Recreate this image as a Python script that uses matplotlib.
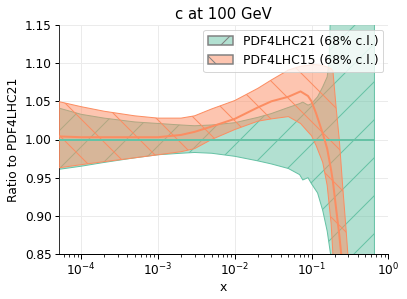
import matplotlib
matplotlib.use("Agg")
import matplotlib.pyplot as plt
import matplotlib.patches as mpatches
from matplotlib.colors import to_rgba
import numpy as np

# ---------------- data ----------------
title = "c at 100 GeV"
xlabel = "x"
ylabel = "Ratio to PDF4LHC21"
labels = ["PDF4LHC21 (68% c.l.)", "PDF4LHC15 (68% c.l.)"]

# PDF4LHC21 (reference) band
x21 = [5.2e-5, 1e-4, 2e-4, 5e-4, 1e-3, 2e-3, 3e-3, 5e-3, 1e-2, 2e-2, 3e-2, 5e-2,
       7e-2, 7.7e-2, 9e-2, 0.1, 0.12, 0.14, 0.16, 0.17, 0.18, 0.2, 0.3, 0.5, 0.66]
hi21 = [1.041, 1.033, 1.028, 1.023, 1.021, 1.019, 1.018, 1.019, 1.022, 1.029, 1.034, 1.042,
        1.047, 1.049, 1.045, 1.047, 1.056, 1.069, 1.082, 1.104, 1.20, 1.30, 1.50, 1.80, 2.00]
lo21 = [0.961, 0.965, 0.970, 0.976, 0.980, 0.982, 0.983, 0.982, 0.978, 0.972, 0.968, 0.962,
        0.954, 0.947, 0.950, 0.942, 0.930, 0.907, 0.880, 0.862, 0.845, 0.800, 0.500, 0.200, 0.000]
c21 = [1.0] * len(x21)

# PDF4LHC15 band
x15 = [5.2e-5, 1e-4, 2e-4, 5e-4, 1e-3, 2e-3, 3e-3, 5e-3, 1e-2, 2e-2, 3e-2, 5e-2,
       7.2e-2, 9e-2, 0.1, 0.115, 0.14, 0.16, 0.18, 0.19, 0.21, 0.23, 0.255, 0.28, 0.30, 0.35]
hi15 = [1.0495, 1.043, 1.037, 1.031, 1.028, 1.028, 1.031, 1.040, 1.051, 1.067, 1.078, 1.091,
        1.096, 1.097, 1.098, 1.098, 1.097, 1.095, 1.093, 1.090, 1.040, 1.000, 0.938, 0.886, 0.845, 0.750]
c15 = [1.004, 1.003, 1.003, 1.003, 1.003, 1.006, 1.010, 1.017, 1.027, 1.042, 1.050, 1.056,
       1.063, 1.057, 1.050, 1.034, 1.008, 0.988, 0.960, 0.945, 0.908, 0.875, 0.830, 0.790, 0.760, 0.680]
lo15 = [0.963, 0.967, 0.971, 0.976, 0.980, 0.984, 0.988, 1.000, 1.013, 1.024, 1.027, 1.030,
        1.021, 1.010, 1.005, 0.992, 0.970, 0.940, 0.890, 0.850, 0.780, 0.720, 0.650, 0.600, 0.550, 0.500]

yticks = [0.85, 0.90, 0.95, 1.00, 1.05, 1.10, 1.15]

# ---------------- style ----------------
DPI = 114
PX = 72.0 / DPI  # one pixel in points
green = "#66c2a5"
orange = "#fc8d62"

plt.rcParams["font.family"] = ["DejaVu Sans"]
plt.rcParams["hatch.linewidth"] = 1.0 * PX

fig = plt.figure(figsize=(407 / DPI, 299 / DPI), dpi=DPI)
ax = fig.add_axes([59.3 / 407, 1 - 254 / 299, (388.3 - 59.3) / 407, (254 - 25) / 299])

ax.fill_between(x21, lo21, hi21, facecolor=to_rgba(green, 0.5), edgecolor=green,
                hatch="/", linewidth=1.0 * PX, zorder=2)
ax.fill_between(x15, lo15, hi15, facecolor=to_rgba(orange, 0.5), edgecolor=orange,
                hatch="\\", linewidth=1.0 * PX, zorder=3)
ax.plot(x21, c21, color=green, linewidth=2.0 * PX, zorder=4)
ax.plot(x15, c15, color=orange, linewidth=2.0 * PX, zorder=5)

ax.set_xscale("log")
ax.set_xlim(5.2e-5, 1.0)
ax.set_ylim(0.85, 1.15)
ax.set_yticks(yticks)
ax.set_yticklabels([f"{v:.2f}" for v in yticks])

ax.spines["top"].set_visible(False)
ax.spines["right"].set_visible(False)
for s in ("left", "bottom"):
    ax.spines[s].set_linewidth(1.0 * PX)
ax.spines["left"].set_color("#333333")

fs_tick = 12.1 * PX
fs_lab = 12.4 * PX
fs_title = 14.9 * PX
ax.tick_params(which="major", length=4.5 * PX, width=1.0 * PX, pad=3 * PX, labelsize=fs_tick)
ax.tick_params(which="minor", length=2.5 * PX, width=0.8 * PX)
ax.grid(True, which="major", color="#ebebeb", linewidth=1.0 * PX, zorder=0)
ax.set_axisbelow(True)

ax.set_title(title, fontsize=fs_title, pad=6 * PX)
ax.set_xlabel(xlabel, fontsize=fs_lab, labelpad=3 * PX)
ax.set_ylabel(ylabel, fontsize=fs_lab, labelpad=5 * PX)

handles = [
    mpatches.Patch(facecolor=to_rgba(green, 0.5), edgecolor="#808080", hatch="/", linewidth=1.5 * PX),
    mpatches.Patch(facecolor=to_rgba(orange, 0.5), edgecolor="#808080", hatch="\\", linewidth=1.5 * PX),
]
leg = ax.legend(handles, labels, loc="upper right", fontsize=fs_lab, frameon=True,
                framealpha=0.8, edgecolor="#cccccc", fancybox=True,
                borderaxespad=0.4, handlelength=2.0, handleheight=0.7)
leg.get_frame().set_linewidth(1.0 * PX)

fig.savefig("out.png", dpi=DPI)
